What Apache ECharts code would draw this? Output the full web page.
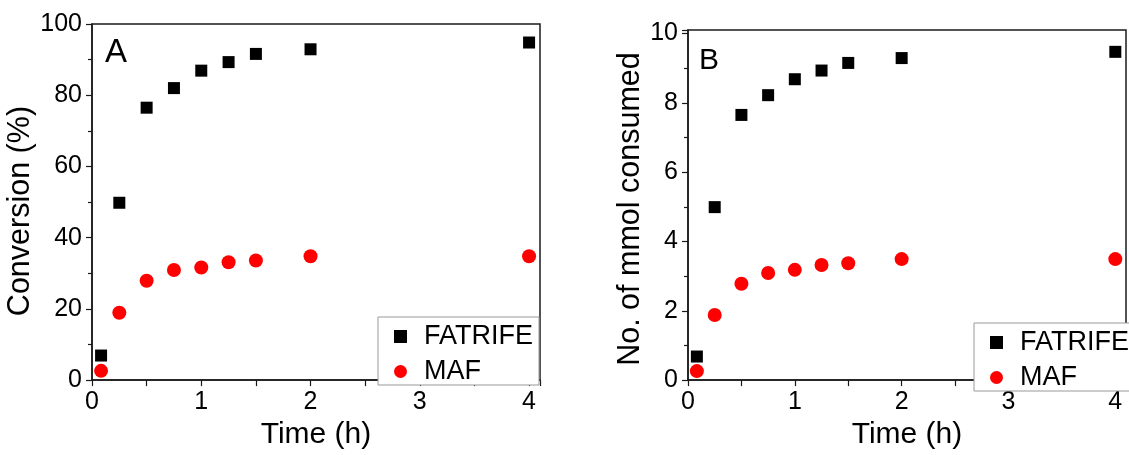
<!DOCTYPE html>
<html>
<head>
<meta charset="utf-8">
<script src="https://cdn.jsdelivr.net/npm/echarts@6/dist/echarts.min.js"></script>
<style>
html,body{margin:0;padding:0;background:#fff;}
#chart{width:1129px;height:455px;}
</style>
</head>
<body>
<div id="chart"></div>
<script>
const times = [0.083, 0.25, 0.5, 0.75, 1, 1.25, 1.5, 2, 4];
const convFATRIFE = [6.9, 49.8, 76.5, 82, 86.9, 89.3, 91.6, 92.9, 94.8];
const convMAF = [2.6, 18.9, 27.9, 30.9, 31.6, 33.1, 33.6, 34.8, 34.8];
const mmolFATRIFE = [0.68, 4.99, 7.65, 8.22, 8.68, 8.93, 9.15, 9.29, 9.47];
const mmolMAF = [0.26, 1.88, 2.78, 3.09, 3.18, 3.32, 3.37, 3.49, 3.49];
const seriesNames = ['FATRIFE', 'MAF'];
const panelLabels = ['A', 'B'];
const xTitle = 'Time (h)';
const yTitles = ['Conversion (%)', 'No. of mmol consumed'];

const FONT = "'Liberation Sans', Arial, sans-serif";
const AX = '#1a1a1a';
const pairs = (xs, ys) => xs.map((x, i) => [x, ys[i]]);

function xAxis(gridIndex, nameGap) {
  return {
    type: 'value', gridIndex, min: 0, max: 4.1, interval: 1,
    name: xTitle, nameLocation: 'middle', nameGap,
    nameTextStyle: {fontFamily: FONT, fontSize: 30, color: '#000'},
    axisLine: {show: true, lineStyle: {color: AX, width: 1.5}},
    axisTick: {show: true, inside: false, length: 6, lineStyle: {color: AX, width: 1.2}},
    minorTick: {show: true, splitNumber: 2, length: 6, lineStyle: {color: AX, width: 1.2}},
    axisLabel: {fontFamily: FONT, fontSize: 25, color: '#000', margin: 10,
      formatter: v => (Math.abs(v - Math.round(v)) < 1e-6 ? String(Math.round(v)) : '')},
    splitLine: {show: false}
  };
}
function yAxis(gridIndex, max, interval, name, nameGap, shift) {
  return {
    type: 'value', gridIndex, min: 0, max, interval,
    name, nameLocation: 'middle', nameGap,
    nameTextStyle: {fontFamily: FONT, fontSize: 30.5, color: '#000', padding: [0, shift, 0, 0]},
    axisLine: {show: true, lineStyle: {color: AX, width: 1.5}},
    axisTick: {show: true, inside: false, length: 6, lineStyle: {color: AX, width: 1.2}},
    minorTick: {show: true, splitNumber: 2, length: 4, lineStyle: {color: AX, width: 1.2}},
    axisLabel: {fontFamily: FONT, fontSize: 25, color: '#000', margin: 10,
      formatter: v => (Math.abs(v / interval - Math.round(v / interval)) < 1e-6 ? String(Math.round(v)) : '')},
    splitLine: {show: false}
  };
}
function legend(left, top) {
  return {
    left, top, orient: 'vertical',
    data: [{name: seriesNames[0], icon: 'rect'}, {name: seriesNames[1], icon: 'circle'}],
    itemWidth: 13, itemHeight: 13, itemGap: 8,
    padding: [6, 6, 0, 16],
    borderColor: '#999', borderWidth: 1, backgroundColor: '#fff',
    textStyle: {fontFamily: FONT, fontSize: 27, color: '#000', lineHeight: 25, padding: [0, 0, 0, 12]}
  };
}
const option = {
  backgroundColor: '#fff',
  animation: false,
  grid: [
    {left: 92, top: 24, width: 448, height: 362.5, show: true, borderColor: AX, borderWidth: 1.5, backgroundColor: 'transparent'},
    {left: 688, top: 30, width: 448, height: 362.7, show: true, borderColor: AX, borderWidth: 1.5, backgroundColor: 'transparent'}
  ],
  xAxis: [xAxis(0, 33), xAxis(1, 30)],
  yAxis: [yAxis(0, 100, 20, yTitles[0], 50, 18), yAxis(1, 10.1, 2, yTitles[1], 39, 8)],
  legend: [legend(378, 317), legend(974, 323)],
  graphic: [
    {type: 'text', left: 105, top: 36.5, style: {text: panelLabels[0], fontFamily: FONT, fontSize: 33, fill: '#000', verticalAlign: 'middle'}},
    {type: 'text', left: 699, top: 46, style: {text: panelLabels[1], fontFamily: FONT, fontSize: 30, fill: '#000', verticalAlign: 'middle'}}
  ],
  series: [
    {name: seriesNames[0], type: 'scatter', xAxisIndex: 0, yAxisIndex: 0, symbol: 'rect', symbolSize: 12, itemStyle: {color: '#000', opacity: 1}, data: pairs(times, convFATRIFE)},
    {name: seriesNames[1], type: 'scatter', xAxisIndex: 0, yAxisIndex: 0, symbol: 'circle', symbolSize: 14, itemStyle: {color: '#ff0000', opacity: 1}, data: pairs(times, convMAF)},
    {name: seriesNames[0], type: 'scatter', xAxisIndex: 1, yAxisIndex: 1, symbol: 'rect', symbolSize: 12, itemStyle: {color: '#000', opacity: 1}, data: pairs(times, mmolFATRIFE)},
    {name: seriesNames[1], type: 'scatter', xAxisIndex: 1, yAxisIndex: 1, symbol: 'circle', symbolSize: 14, itemStyle: {color: '#ff0000', opacity: 1}, data: pairs(times, mmolMAF)}
  ]
};
const chart = echarts.init(document.getElementById('chart'), null, {renderer: 'canvas'});
chart.setOption(option);
</script>
</body>
</html>
